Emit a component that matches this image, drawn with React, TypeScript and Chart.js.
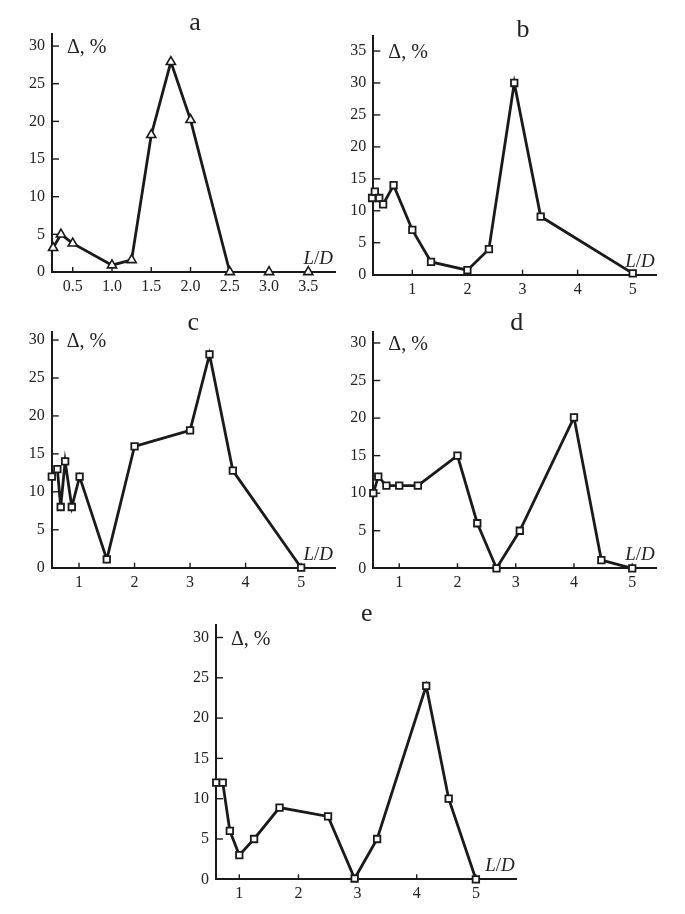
import React, { useEffect, useRef } from "react";
import { Chart, registerables } from "chart.js";

Chart.register(...registerables);

// ---------- data ----------
// panel a
const aX = [0.25, 0.35, 0.5, 1.0, 1.25, 1.5, 1.75, 2.0, 2.5];
const aY = [3.2, 5.0, 3.8, 0.9, 1.6, 18.2, 27.9, 20.2, 0];
const aXOnly = [3.0, 3.5];
const aYOnly = [0, 0];
const aXTicks = [0.5, 1.0, 1.5, 2.0, 2.5, 3.0, 3.5];
const aYTicks = [0, 5, 10, 15, 20, 25, 30];

// panel b
const bX = [0.27, 0.32, 0.4, 0.47, 0.66, 1.0, 1.34, 2.0, 2.39, 2.85, 3.33, 5.0];
const bY = [12, 13, 12, 11, 14, 7, 2, 0.7, 4, 30, 9.1, 0.2];
const bXTicks = [1, 2, 3, 4, 5];
const bYTicks = [0, 5, 10, 15, 20, 25, 30, 35];

// panel c
const cX = [0.51, 0.61, 0.67, 0.75, 0.87, 1.01, 1.5, 2.0, 3.0, 3.35, 3.77, 5.0];
const cY = [12, 13, 8, 14, 8, 12, 1.1, 16, 18.1, 28.1, 12.8, 0];
const cXTicks = [1, 2, 3, 4, 5];
const cYTicks = [0, 5, 10, 15, 20, 25, 30];

// panel d
const dX = [0.555, 0.64, 0.78, 1.0, 1.32, 2.0, 2.34, 2.67, 3.07, 4.0, 4.47, 5.0];
const dY = [10, 12.2, 11, 11, 11, 15, 6, 0, 5, 20.1, 1.1, 0];
const dXTicks = [1, 2, 3, 4, 5];
const dYTicks = [0, 5, 10, 15, 20, 25, 30];

// panel e
const eX = [0.61, 0.72, 0.84, 1.0, 1.25, 1.68, 2.5, 2.95, 3.33, 4.16, 4.54, 5.0];
const eY = [12, 12, 6, 3, 5, 8.9, 7.8, 0.1, 5, 24, 10, 0];
const eXTicks = [1, 2, 3, 4, 5];
const eYTicks = [0, 5, 10, 15, 20, 25, 30];

const yLabel = "Δ, %";
const titles = ["a", "b", "c", "d", "e"];

const FONT = "'Liberation Serif', 'Times New Roman', serif";
const INK = "#1a1a1a";

type PanelCfg = {
  title: string;
  canvas: { left: number; top: number; w: number; h: number };
  area: { l: number; t: number; r: number; b: number };
  xMin: number;
  xMax: number;
  yMax: number;
  xTicks: number[];
  yTicks: number[];
  decimals: number;
  xs: number[];
  ys: number[];
  xsOnly?: number[];
  ysOnly?: number[];
  pointStyle: "rect" | "triangle";
  titleX: number;
  titleY: number;
};

const zip = (xs: number[], ys: number[]) => xs.map((x, i) => ({ x, y: ys[i] }));

const panels: PanelCfg[] = [
  {
    title: titles[0],
    canvas: { left: 0, top: 0, w: 342, h: 300 },
    area: { l: 52, t: 34, r: 335, b: 272 },
    xMin: 0.236, xMax: 3.84, yMax: 31.6,
    xTicks: aXTicks, yTicks: aYTicks, decimals: 1,
    xs: aX, ys: aY, xsOnly: aXOnly, ysOnly: aYOnly,
    pointStyle: "triangle", titleX: 195, titleY: 30,
  },
  {
    title: titles[1],
    canvas: { left: 342, top: 0, w: 343, h: 300 },
    area: { l: 373.3, t: 36, r: 656.7, b: 274.7 },
    xMin: 0.292, xMax: 5.435, yMax: 37.35,
    xTicks: bXTicks, yTicks: bYTicks, decimals: 0,
    xs: bX, ys: bY,
    pointStyle: "rect", titleX: 523, titleY: 37,
  },
  {
    title: titles[2],
    canvas: { left: 0, top: 300, w: 342, h: 300 },
    area: { l: 51.7, t: 331.7, r: 335, b: 567.7 },
    xMin: 0.508, xMax: 5.61, yMax: 31.1,
    xTicks: cXTicks, yTicks: cYTicks, decimals: 0,
    xs: cX, ys: cY,
    pointStyle: "rect", titleX: 193.3, titleY: 329.5,
  },
  {
    title: titles[3],
    canvas: { left: 342, top: 300, w: 343, h: 300 },
    area: { l: 373.3, t: 331.7, r: 656.7, b: 568.3 },
    xMin: 0.555, xMax: 5.42, yMax: 31.5,
    xTicks: dXTicks, yTicks: dYTicks, decimals: 0,
    xs: dX, ys: dY,
    pointStyle: "rect", titleX: 516.7, titleY: 329.5,
  },
  {
    title: titles[4],
    canvas: { left: 160, top: 600, w: 370, h: 314 },
    area: { l: 216, t: 625, r: 516.7, b: 879.3 },
    xMin: 0.606, xMax: 5.69, yMax: 31.55,
    xTicks: eXTicks, yTicks: eYTicks, decimals: 0,
    xs: eX, ys: eY,
    pointStyle: "rect", titleX: 366.7, titleY: 620.7,
  },
];

function Panel({ cfg }: { cfg: PanelCfg }) {
  const ref = useRef<HTMLCanvasElement | null>(null);

  useEffect(() => {
    const canvas = ref.current;
    if (!canvas) return;
    const { canvas: cv, area } = cfg;

    const pointOpts =
      cfg.pointStyle === "triangle"
        ? { pointStyle: "triangle", pointRadius: 5.3, pointBorderWidth: 1.6 }
        : { pointStyle: "rect", pointRadius: 4.6, pointBorderWidth: 1.8 };

    const datasets: any[] = [
      {
        data: zip(cfg.xs, cfg.ys),
        showLine: true,
        borderColor: INK,
        borderWidth: 2.8,
        pointBackgroundColor: "#fff",
        pointBorderColor: INK,
        clip: false,
        ...pointOpts,
      },
    ];
    if (cfg.xsOnly && cfg.ysOnly) {
      datasets.push({
        data: zip(cfg.xsOnly, cfg.ysOnly),
        showLine: false,
        borderColor: INK,
        pointBackgroundColor: "#fff",
        pointBorderColor: INK,
        clip: false,
        ...pointOpts,
      });
    }

    const decor = {
      id: "decor",
      beforeDatasetsDraw(chart: any) {
        const { ctx, chartArea } = chart;
        const xs = chart.scales.x;
        const ys = chart.scales.y;
        ctx.save();
        ctx.strokeStyle = INK;
        ctx.lineWidth = 1.4;
        ys.ticks.forEach((t: any) => {
          if (t.value === 0) return;
          const py = ys.getPixelForValue(t.value);
          ctx.beginPath();
          ctx.moveTo(chartArea.left, py);
          ctx.lineTo(chartArea.left + 7, py);
          ctx.stroke();
        });
        xs.ticks.forEach((t: any) => {
          const px = xs.getPixelForValue(t.value);
          ctx.beginPath();
          ctx.moveTo(px, chartArea.bottom);
          ctx.lineTo(px, chartArea.bottom - 5);
          ctx.stroke();
        });
        ctx.restore();
      },
      afterDraw(chart: any) {
        const { ctx, chartArea } = chart;
        const ys = chart.scales.y;
        ctx.save();
        ctx.fillStyle = "#222";
        // panel letter
        ctx.font = `26px ${FONT}`;
        ctx.textAlign = "center";
        ctx.textBaseline = "alphabetic";
        ctx.fillText(cfg.title, cfg.titleX - cv.left, cfg.titleY - cv.top);
        // y label
        const topTick = cfg.yTicks[cfg.yTicks.length - 1];
        ctx.font = `20px ${FONT}`;
        ctx.textAlign = "left";
        ctx.textBaseline = "middle";
        ctx.fillText(yLabel, chartArea.left + 15, ys.getPixelForValue(topTick) + 2);
        // L/D label
        ctx.textBaseline = "alphabetic";
        const fItal = `italic 19px ${FONT}`;
        const fNorm = `19px ${FONT}`;
        ctx.font = fItal;
        const wL = ctx.measureText("L").width;
        const wD = ctx.measureText("D").width;
        ctx.font = fNorm;
        const wS = ctx.measureText("/").width;
        const by = chartArea.bottom - 8;
        let x = chartArea.right - 2 - (wL + wS + wD);
        ctx.font = fItal;
        ctx.fillText("L", x, by);
        x += wL;
        ctx.font = fNorm;
        ctx.fillText("/", x, by);
        x += wS;
        ctx.font = fItal;
        ctx.fillText("D", x, by);
        ctx.restore();
      },
    };

    const tickFont = { family: FONT, size: 16 };

    const chart = new Chart(canvas, {
      type: "scatter",
      data: { datasets },
      options: {
        animation: false,
        responsive: false,
        events: [],
        layout: {
          padding: {
            top: area.t - cv.top,
            right: cv.left + cv.w - area.r,
            left: 0,
            bottom: 0,
          },
        },
        plugins: {
          legend: { display: false },
          tooltip: { enabled: false },
          title: { display: false },
        },
        scales: {
          x: {
            type: "linear",
            position: "bottom",
            min: cfg.xMin,
            max: cfg.xMax,
            grid: { display: true, drawOnChartArea: false, drawTicks: false },
            border: { display: true, color: INK, width: 2 },
            afterBuildTicks: (s: any) => {
              s.ticks = cfg.xTicks.map((v) => ({ value: v }));
            },
            afterFit: (s: any) => {
              s.height = cv.top + cv.h - area.b;
            },
            ticks: {
              font: tickFont,
              color: "#222",
              padding: 5,
              maxRotation: 0,
              autoSkip: false,
              callback: (v: any) => Number(v).toFixed(cfg.decimals),
            },
          },
          y: {
            type: "linear",
            position: "left",
            min: 0,
            max: cfg.yMax,
            grid: { display: true, drawOnChartArea: false, drawTicks: false },
            border: { display: true, color: INK, width: 2 },
            afterBuildTicks: (s: any) => {
              s.ticks = cfg.yTicks.map((v) => ({ value: v }));
            },
            afterFit: (s: any) => {
              s.width = area.l - cv.left;
            },
            ticks: {
              font: tickFont,
              color: "#222",
              padding: 7,
              autoSkip: false,
              callback: (v: any) => String(v),
            },
          },
        },
      } as any,
      plugins: [decor],
    });

    return () => chart.destroy();
  }, [cfg]);

  return (
    <canvas
      ref={ref}
      width={cfg.canvas.w}
      height={cfg.canvas.h}
      style={{
        position: "absolute",
        left: cfg.canvas.left,
        top: cfg.canvas.top,
        width: cfg.canvas.w,
        height: cfg.canvas.h,
      }}
    />
  );
}

export default function App() {
  return (
    <div
      style={{
        position: "absolute",
        left: 0,
        top: 0,
        width: 685,
        height: 914,
        background: "#fff",
      }}
    >
      {panels.map((p) => (
        <Panel key={p.title} cfg={p} />
      ))}
    </div>
  );
}
